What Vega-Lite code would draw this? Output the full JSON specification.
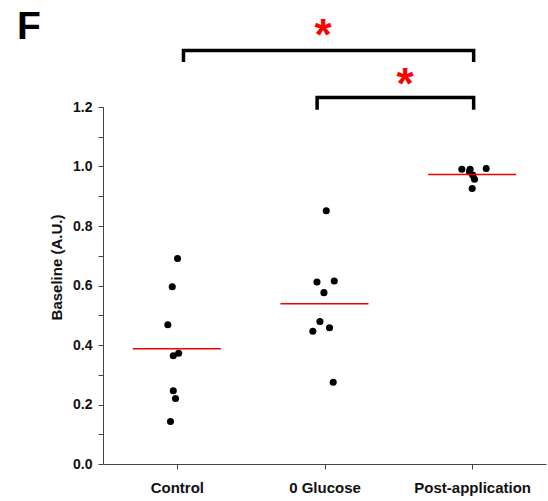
{
  "$schema": "https://vega.github.io/schema/vega-lite/v6.json",
  "width": 443,
  "height": 357,
  "autosize": {"type": "none"},
  "padding": {"left": 103, "top": 107, "right": 2, "bottom": 37},
  "background": "white",
  "config": {"view": {"stroke": null}, "font": "Liberation Sans"},
  "title": {"text": "F", "anchor": "start", "frame": "group", "fontSize": 39, "fontWeight": "bold", "color": "black", "baseline": "alphabetic", "offset": -63, "dx": -86},
  "datasets": {
    "pts": [
      {"grp": 1, "x": 1.005, "y": 0.691},
      {"grp": 1, "x": 0.969, "y": 0.596},
      {"grp": 1, "x": 0.939, "y": 0.468},
      {"grp": 1, "x": 1.012, "y": 0.372},
      {"grp": 1, "x": 0.976, "y": 0.364},
      {"grp": 1, "x": 0.976, "y": 0.246},
      {"grp": 1, "x": 0.991, "y": 0.220},
      {"grp": 1, "x": 0.957, "y": 0.143},
      {"grp": 2, "x": 2.012, "y": 0.851},
      {"grp": 2, "x": 1.949, "y": 0.612},
      {"grp": 2, "x": 2.066, "y": 0.615},
      {"grp": 2, "x": 1.996, "y": 0.576},
      {"grp": 2, "x": 1.969, "y": 0.479},
      {"grp": 2, "x": 2.034, "y": 0.458},
      {"grp": 2, "x": 1.921, "y": 0.446},
      {"grp": 2, "x": 2.059, "y": 0.275},
      {"grp": 3, "x": 2.930, "y": 0.991},
      {"grp": 3, "x": 2.986, "y": 0.991},
      {"grp": 3, "x": 3.095, "y": 0.993},
      {"grp": 3, "x": 2.982, "y": 0.982},
      {"grp": 3, "x": 3.004, "y": 0.971},
      {"grp": 3, "x": 3.016, "y": 0.957},
      {"grp": 3, "x": 3.000, "y": 0.926}
    ],
    "brk": [
      {"b": "A", "i": 1, "x": 1.045, "y": 1.351},
      {"b": "A", "i": 2, "x": 1.045, "y": 1.390},
      {"b": "A", "i": 3, "x": 3.010, "y": 1.390},
      {"b": "A", "i": 4, "x": 3.010, "y": 1.351},
      {"b": "B", "i": 1, "x": 1.950, "y": 1.191},
      {"b": "B", "i": 2, "x": 1.950, "y": 1.232},
      {"b": "B", "i": 3, "x": 3.010, "y": 1.232},
      {"b": "B", "i": 4, "x": 3.010, "y": 1.191}
    ],
    "stars": [
      {"x": 1.99, "y": 1.390, "t": "*"},
      {"x": 2.545, "y": 1.226, "t": "*"}
    ]
  },
  "layer": [
    {
      "data": {"name": "pts"},
      "mark": {"type": "circle", "size": 50, "color": "black", "opacity": 1},
      "encoding": {
        "x": {"field": "x", "type": "quantitative",
          "scale": {"domain": [0.5, 3.5], "nice": false, "zero": false},
          "axis": {"title": null, "values": [1, 2, 3], "labelExpr": "datum.value == 1 ? 'Control' : datum.value == 2 ? '0 Glucose' : 'Post-application'", "grid": false, "domainColor": "#444444", "tickColor": "#444444", "tickSize": 5, "labelFont": "Liberation Sans", "labelFontSize": 15, "labelFontWeight": "bold", "labelColor": "#111111", "labelPadding": 11}},
        "y": {"field": "y", "type": "quantitative",
          "scale": {"domain": [0, 1.2], "nice": false},
          "axis": {"title": "Baseline (A.U.)", "values": [0, 0.1, 0.2, 0.3, 0.4, 0.5, 0.6, 0.7, 0.8, 0.9, 1.0, 1.1, 1.2], "labelExpr": "round(datum.value*10) % 2 == 0 ? format(datum.value, '.1f') : ''", "grid": false, "domainColor": "#444444", "tickColor": "#444444", "tickSize": 5, "labelFont": "Liberation Sans", "labelFontSize": 14, "labelFontWeight": "bold", "labelColor": "#111111", "labelPadding": 6, "titleFont": "Liberation Sans", "titleFontSize": 15, "titleFontWeight": "bold", "titleColor": "#111111", "titlePadding": 8, "titleY": 160}}
      }
    },
    {
      "data": {"name": "pts"},
      "mark": {"type": "tick", "orient": "horizontal", "size": 88, "thickness": 1.5, "color": "#f00000"},
      "encoding": {
        "x": {"field": "grp", "type": "quantitative",
          "axis": {"title": null, "values": [1, 2, 3], "labelExpr": "datum.value == 1 ? 'Control' : datum.value == 2 ? '0 Glucose' : 'Post-application'", "grid": false, "domainColor": "#444444", "tickColor": "#444444", "tickSize": 5, "labelFont": "Liberation Sans", "labelFontSize": 15, "labelFontWeight": "bold", "labelColor": "#111111", "labelPadding": 11}},
        "y": {"aggregate": "mean", "field": "y", "type": "quantitative",
          "axis": {"title": "Baseline (A.U.)", "values": [0, 0.1, 0.2, 0.3, 0.4, 0.5, 0.6, 0.7, 0.8, 0.9, 1.0, 1.1, 1.2], "labelExpr": "round(datum.value*10) % 2 == 0 ? format(datum.value, '.1f') : ''", "grid": false, "domainColor": "#444444", "tickColor": "#444444", "tickSize": 5, "labelFont": "Liberation Sans", "labelFontSize": 14, "labelFontWeight": "bold", "labelColor": "#111111", "labelPadding": 6, "titleFont": "Liberation Sans", "titleFontSize": 15, "titleFontWeight": "bold", "titleColor": "#111111", "titlePadding": 8, "titleY": 160}}
      }
    },
    {
      "data": {"name": "brk"},
      "mark": {"type": "line", "color": "black", "strokeWidth": 3.5, "strokeJoin": "miter", "clip": false},
      "encoding": {
        "x": {"field": "x", "type": "quantitative",
          "axis": {"title": null, "values": [1, 2, 3], "labelExpr": "datum.value == 1 ? 'Control' : datum.value == 2 ? '0 Glucose' : 'Post-application'", "grid": false, "domainColor": "#444444", "tickColor": "#444444", "tickSize": 5, "labelFont": "Liberation Sans", "labelFontSize": 15, "labelFontWeight": "bold", "labelColor": "#111111", "labelPadding": 11}},
        "y": {"field": "y", "type": "quantitative",
          "axis": {"title": "Baseline (A.U.)", "values": [0, 0.1, 0.2, 0.3, 0.4, 0.5, 0.6, 0.7, 0.8, 0.9, 1.0, 1.1, 1.2], "labelExpr": "round(datum.value*10) % 2 == 0 ? format(datum.value, '.1f') : ''", "grid": false, "domainColor": "#444444", "tickColor": "#444444", "tickSize": 5, "labelFont": "Liberation Sans", "labelFontSize": 14, "labelFontWeight": "bold", "labelColor": "#111111", "labelPadding": 6, "titleFont": "Liberation Sans", "titleFontSize": 15, "titleFontWeight": "bold", "titleColor": "#111111", "titlePadding": 8, "titleY": 160}},
        "detail": {"field": "b"},
        "order": {"field": "i"}
      }
    },
    {
      "data": {"name": "stars"},
      "mark": {"type": "text", "color": "#ff0000", "fontSize": 44, "fontWeight": "bold", "font": "Liberation Sans", "baseline": "alphabetic", "align": "center", "clip": false},
      "encoding": {
        "x": {"field": "x", "type": "quantitative",
          "axis": {"title": null, "values": [1, 2, 3], "labelExpr": "datum.value == 1 ? 'Control' : datum.value == 2 ? '0 Glucose' : 'Post-application'", "grid": false, "domainColor": "#444444", "tickColor": "#444444", "tickSize": 5, "labelFont": "Liberation Sans", "labelFontSize": 15, "labelFontWeight": "bold", "labelColor": "#111111", "labelPadding": 11}},
        "y": {"field": "y", "type": "quantitative",
          "axis": {"title": "Baseline (A.U.)", "values": [0, 0.1, 0.2, 0.3, 0.4, 0.5, 0.6, 0.7, 0.8, 0.9, 1.0, 1.1, 1.2], "labelExpr": "round(datum.value*10) % 2 == 0 ? format(datum.value, '.1f') : ''", "grid": false, "domainColor": "#444444", "tickColor": "#444444", "tickSize": 5, "labelFont": "Liberation Sans", "labelFontSize": 14, "labelFontWeight": "bold", "labelColor": "#111111", "labelPadding": 6, "titleFont": "Liberation Sans", "titleFontSize": 15, "titleFontWeight": "bold", "titleColor": "#111111", "titlePadding": 8, "titleY": 160}},
        "text": {"field": "t"}
      }
    }
  ]
}
